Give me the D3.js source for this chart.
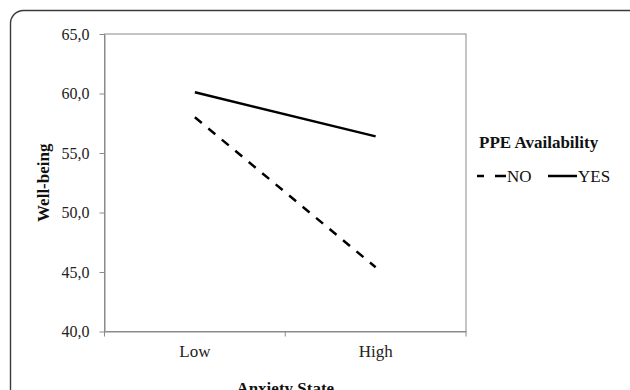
<!DOCTYPE html>
<html>
<head>
<meta charset="utf-8">
<script src="https://cdn.jsdelivr.net/npm/d3@7"></script>
<style>
  body { margin: 0; background: #fff; }
  svg { display: block; font-family: "Liberation Serif", "Times New Roman", serif; }
</style>
</head>
<body>
<div id="chart"></div>
<script>
// data
const categories = ["Low", "High"];
const noValues = [58.0, 45.4];
const yesValues = [60.1, 56.4];
const yTicks = [40, 45, 50, 55, 60, 65];
const seriesNames = ["NO", "YES"];

/** CONSTANTS */
const width = 630,
  height = 390,
  margin = { top: 34, bottom: 58.5, left: 104.5, right: 164 };

const comma = d3.formatLocale({ decimal: ",", thousands: ".", grouping: [3], currency: ["", ""] });
const fmt = comma.format(".1f");

/** SCALES */
const xScale = d3.scaleBand()
  .domain(categories)
  .range([margin.left, width - margin.right])
  .padding(0);

const yScale = d3.scaleLinear()
  .domain([40, 65])
  .range([height - margin.bottom, margin.top]);

const svg = d3.select("#chart")
  .append("svg")
  .attr("width", width)
  .attr("height", height);

// outer rounded frame (runs off the right and bottom edge)
svg.append("rect")
  .attr("x", 10.5)
  .attr("y", 10.5)
  .attr("width", 640)
  .attr("height", 420)
  .attr("rx", 13)
  .attr("fill", "none")
  .attr("stroke", "#3a3a3a")
  .attr("stroke-width", 1.4);

// plot area border
svg.append("rect")
  .attr("x", margin.left)
  .attr("y", margin.top)
  .attr("width", width - margin.right - margin.left)
  .attr("height", height - margin.bottom - margin.top)
  .attr("fill", "none")
  .attr("stroke", "#8a8a8a")
  .attr("stroke-width", 1);

// y axis
const yAxis = d3.axisLeft(yScale)
  .tickValues(yTicks)
  .tickFormat(fmt)
  .tickSize(5)
  .tickSizeOuter(0)
  .tickPadding(10);

const gy = svg.append("g")
  .attr("transform", `translate(${margin.left},0)`)
  .call(yAxis);
gy.selectAll("path, line").attr("stroke", "#8a8a8a");
gy.selectAll("text")
  .attr("font-size", 16)
  .attr("font-family", "Liberation Serif, Times New Roman, serif")
  .attr("fill", "#222");

// x axis: labels centred on categories, ticks between them
const xAxis = d3.axisBottom(xScale)
  .tickSize(0)
  .tickSizeOuter(0)
  .tickPadding(13);

const gx = svg.append("g")
  .attr("transform", `translate(0,${height - margin.bottom})`)
  .call(xAxis);
gx.selectAll("path").attr("stroke", "#8a8a8a");
gx.selectAll("text")
  .attr("font-size", 17)
  .attr("font-family", "Liberation Serif, Times New Roman, serif")
  .attr("fill", "#222");

const bounds = categories.map(c => xScale(c)).concat([xScale(categories[categories.length - 1]) + xScale.bandwidth()]);
gx.selectAll(".bound")
  .data(bounds)
  .join("line")
  .attr("class", "bound")
  .attr("x1", d => d)
  .attr("x2", d => d)
  .attr("y1", 0)
  .attr("y2", 5)
  .attr("stroke", "#8a8a8a");

// lines
const line = d3.line()
  .x((d, i) => xScale(categories[i]) + xScale.bandwidth() / 2)
  .y(d => yScale(d));

svg.append("path")
  .datum(noValues)
  .attr("d", line)
  .attr("fill", "none")
  .attr("stroke", "#000")
  .attr("stroke-width", 2.5)
  .attr("stroke-dasharray", "9,8.5");

svg.append("path")
  .datum(yesValues)
  .attr("d", line)
  .attr("fill", "none")
  .attr("stroke", "#000")
  .attr("stroke-width", 2.5);

// axis titles
svg.append("text")
  .attr("transform", `translate(48.5,${(margin.top + height - margin.bottom) / 2}) rotate(-90)`)
  .attr("text-anchor", "middle")
  .attr("font-size", 17)
  .attr("font-weight", "bold")
  .attr("fill", "#111")
  .text("Well-being");

svg.append("text")
  .attr("x", (margin.left + width - margin.right) / 2)
  .attr("y", 394)
  .attr("text-anchor", "middle")
  .attr("font-size", 17)
  .attr("font-weight", "bold")
  .attr("fill", "#111")
  .text("Anxiety State");

// legend
const legend = svg.append("g").attr("transform", "translate(479,0)");
legend.append("text")
  .attr("x", 0)
  .attr("y", 147.5)
  .attr("font-size", 17)
  .attr("font-weight", "bold")
  .attr("fill", "#111")
  .text("PPE Availability");

const items = legend.selectAll(".item")
  .data(seriesNames)
  .join("g")
  .attr("class", "item")
  .attr("transform", (d, i) => `translate(${i * 71},176)`);

items.append("line")
  .attr("x1", -2)
  .attr("x2", 27)
  .attr("y1", 0)
  .attr("y2", 0)
  .attr("stroke", "#000")
  .attr("stroke-width", 2.5)
  .attr("stroke-dasharray", d => d === "NO" ? "7,11,11" : null);

items.append("text")
  .attr("x", 28)
  .attr("y", 6)
  .attr("font-size", 17)
  .attr("fill", "#111")
  .text(d => d);
</script>
</body>
</html>
